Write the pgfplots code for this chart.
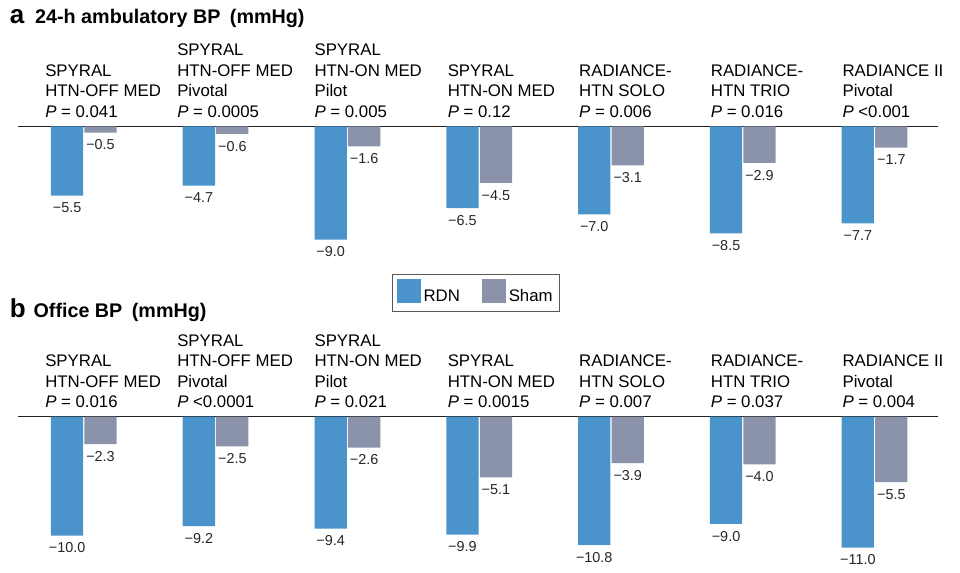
\documentclass[border=0pt]{standalone}
\usepackage{pgfplots}
\pgfplotsset{compat=1.18}
\usepackage{pgfplotstable}
\usepackage{fontspec}
\setmainfont{Liberation Sans}
\definecolor{rdn}{HTML}{4A94CB}
\definecolor{sham}{HTML}{8A93AA}
\definecolor{axln}{HTML}{222222}
\newcommand{\grp}{\fontsize{12.6pt}{15.4pt}\selectfont}
\newcommand{\val}{\fontsize{10.8pt}{12pt}\selectfont}

\pgfplotstableread{
g y lab
0 -5.5 −5.5
1 -4.7 −4.7
2 -9.0 −9.0
3 -6.5 −6.5
4 -7.0 −7.0
5 -8.5 −8.5
6 -7.7 −7.7
}\aRDN
\pgfplotstableread{
g y lab
0 -0.5 −0.5
1 -0.6 −0.6
2 -1.6 −1.6
3 -4.5 −4.5
4 -3.1 −3.1
5 -2.9 −2.9
6 -1.7 −1.7
}\aSham
\pgfplotstableread{
g y lab
0 -10.0 −10.0
1 -9.2 −9.2
2 -9.4 −9.4
3 -9.9 −9.9
4 -10.8 −10.8
5 -9.0 −9.0
6 -11.0 −11.0
}\bRDN
\pgfplotstableread{
g y lab
0 -2.3 −2.3
1 -2.5 −2.5
2 -2.6 −2.6
3 -5.1 −5.1
4 -3.9 −3.9
5 -4.0 −4.0
6 -5.5 −5.5
}\bSham

\pgfplotsset{
  panel/.style={
    scale only axis, anchor=north west,
    width=689.55pt,
    xmin=-0.497, xmax=6.479, ymax=0,
    axis x line=top, axis y line=none,
    x axis line style={-, line width=0.9pt, color=axln},
    xtick=\empty, ytick=\empty,
    clip=false,
    ybar, bar width=0.245,
    nodes near coords,
    point meta=explicit symbolic,
    every node near coord/.append style={font=\val, anchor=north, inner sep=0pt, yshift=-5.2pt, color=black!85},
  },
  rdnbar/.style={fill=rdn, draw=none, bar shift=0pt},
  shambar/.style={fill=sham, draw=none, bar shift=0pt},
}

\begin{document}
\begin{tikzpicture}
\path[use as bounding box] (0pt,0pt) rectangle (720pt,-429.75pt);

% Panel titles
\node[anchor=base west, inner sep=0pt, font=\fontsize{19.5pt}{20pt}\selectfont\bfseries] at (7.2pt,-17.6pt) {a};
\node[anchor=base west, inner sep=0pt, font=\fontsize{14.8pt}{16pt}\selectfont\bfseries] at (26.2pt,-17.6pt) {24-h ambulatory BP\hspace{3pt} (mmHg)};
\node[anchor=base west, inner sep=0pt, font=\fontsize{19.5pt}{20pt}\selectfont\bfseries] at (7.2pt,-238pt) {b};
\node[anchor=base west, inner sep=0pt, font=\fontsize{14.8pt}{16pt}\selectfont\bfseries] at (25pt,-238pt) {Office BP\hspace{3pt} (mmHg)};

% Panel a
\begin{axis}[panel, at={(13.725pt,-94.725pt)}, height=94.5pt, ymin=-10,
  legend columns=2,
  legend style={at={(0.4065,-0.17)}, anchor=north west, draw=black!65, line width=0.7pt,
    inner xsep=3.5pt, inner ysep=3.5pt, font=\grp,
    nodes={inner sep=1.8pt},
    /tikz/every even column/.append style={column sep=15pt}},
]
\addplot[rdnbar, legend image code/.code={\fill[rdn] (0pt,-4.5pt) rectangle (18pt,13.5pt);}]
  table[x expr=\thisrow{g}-0.127, y=y, meta=lab] {\aRDN};
\addlegendentry{RDN}
\addplot[shambar, legend image code/.code={\fill[sham] (0pt,-4.5pt) rectangle (18pt,13.5pt);}]
  table[x expr=\thisrow{g}+0.127, y=y, meta=lab] {\aSham};
\addlegendentry{Sham\hspace{4pt}}
\begin{scope}[every node/.style={anchor=south west, align=left, inner sep=0pt, font=\grp, yshift=6.3pt}]
\node at (axis cs:-0.2944,0) {SPYRAL\\HTN-OFF MED\\\textit{P} = 0.041};
\node at (axis cs:0.7071,0) {SPYRAL\\HTN-OFF MED\\Pivotal\\\textit{P} = 0.0005};
\node at (axis cs:1.7489,0) {SPYRAL\\HTN-ON MED\\Pilot\\\textit{P} = 0.005};
\node at (axis cs:2.7595,0) {SPYRAL\\HTN-ON MED\\\textit{P} = 0.12};
\node at (axis cs:3.757,0) {RADIANCE-\\HTN SOLO\\\textit{P} = 0.006};
\node at (axis cs:4.756,0) {RADIANCE-\\HTN TRIO\\\textit{P} = 0.016};
\node at (axis cs:5.755,0) {RADIANCE II\\Pivotal\\\textit{P} <0.001};
\end{scope}
\end{axis}

% Panel b
\begin{axis}[panel, at={(13.725pt,-312.525pt)}, height=107.1pt, ymin=-12]
\addplot[rdnbar] table[x expr=\thisrow{g}-0.127, y=y, meta=lab] {\bRDN};
\addplot[shambar] table[x expr=\thisrow{g}+0.127, y=y, meta=lab] {\bSham};
\begin{scope}[every node/.style={anchor=south west, align=left, inner sep=0pt, font=\grp, yshift=6.3pt}]
\node at (axis cs:-0.2944,0) {SPYRAL\\HTN-OFF MED\\\textit{P} = 0.016};
\node at (axis cs:0.7071,0) {SPYRAL\\HTN-OFF MED\\Pivotal\\\textit{P} <0.0001};
\node at (axis cs:1.7489,0) {SPYRAL\\HTN-ON MED\\Pilot\\\textit{P} = 0.021};
\node at (axis cs:2.7595,0) {SPYRAL\\HTN-ON MED\\\textit{P} = 0.0015};
\node at (axis cs:3.757,0) {RADIANCE-\\HTN SOLO\\\textit{P} = 0.007};
\node at (axis cs:4.756,0) {RADIANCE-\\HTN TRIO\\\textit{P} = 0.037};
\node at (axis cs:5.755,0) {RADIANCE II\\Pivotal\\\textit{P} = 0.004};
\end{scope}
\end{axis}
\end{tikzpicture}
\end{document}
